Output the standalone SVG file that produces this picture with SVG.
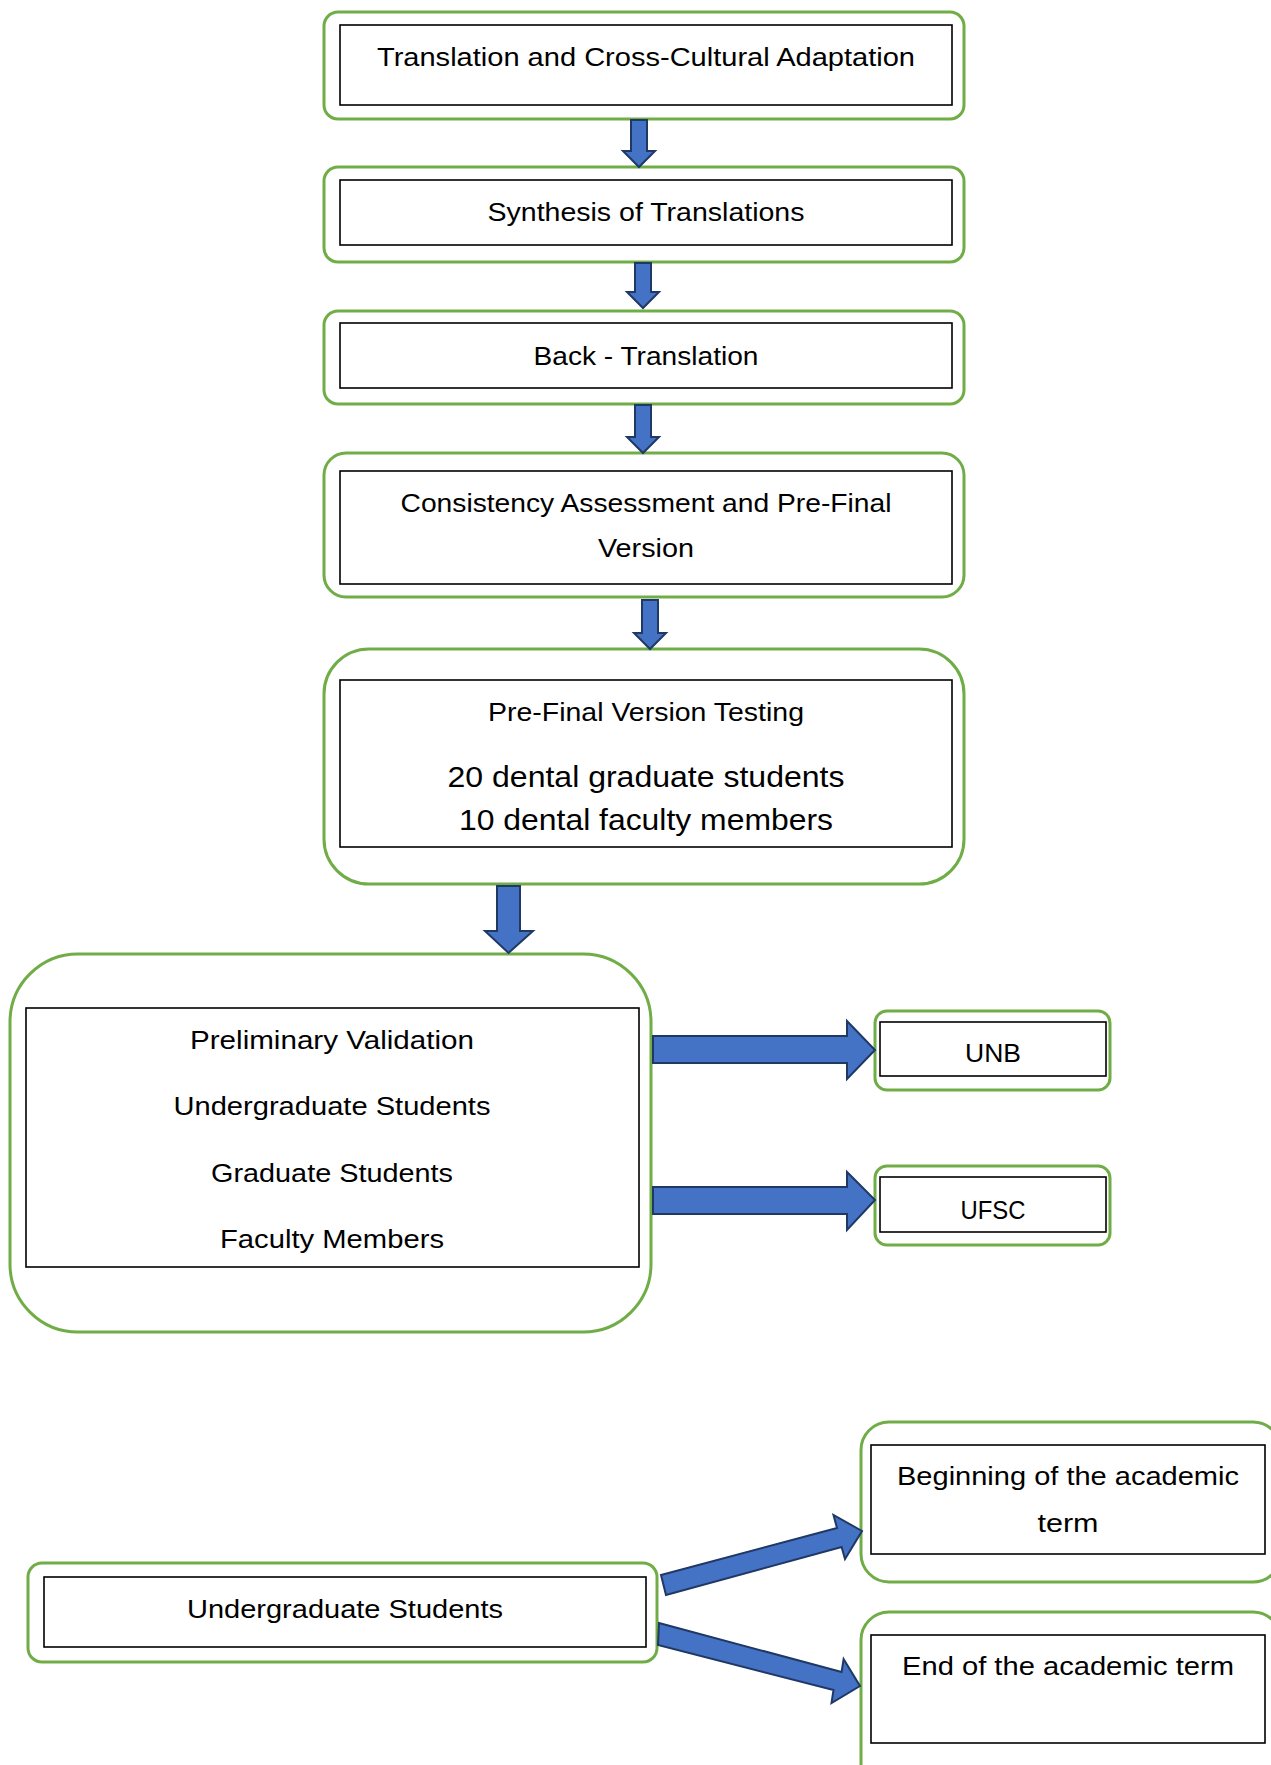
<svg xmlns="http://www.w3.org/2000/svg" width="1271" height="1765" viewBox="0 0 1271 1765">
<style>
.outer{fill:#fff;stroke:#70AD47;stroke-width:3}
.inner{fill:#fff;stroke:#000;stroke-width:1.6}
.t{font-family:"Liberation Sans",Arial,sans-serif;font-size:26px;fill:#000;text-anchor:middle}
.a{font-family:"Liberation Sans",Arial,sans-serif;font-size:29px;fill:#000;text-anchor:middle}
.arr{fill:#4472C4;stroke:#1F3864;stroke-width:2;stroke-linejoin:miter}
</style>
<rect width="1271" height="1765" fill="#fff"/>
<g id="n1">
<rect class="outer" x="324" y="12" width="640" height="107" rx="14"/>
<rect class="inner" x="340" y="25" width="612" height="80"/>
<text class="t" x="646" y="66" textLength="538" lengthAdjust="spacingAndGlyphs">Translation and Cross-Cultural Adaptation</text>
</g>
<g id="n2">
<rect class="outer" x="324" y="167" width="640" height="95" rx="14"/>
<rect class="inner" x="340" y="180" width="612" height="65"/>
<text class="t" x="646" y="221" textLength="317" lengthAdjust="spacingAndGlyphs">Synthesis of Translations</text>
</g>
<g id="n3">
<rect class="outer" x="324" y="311" width="640" height="93" rx="14"/>
<rect class="inner" x="340" y="323" width="612" height="65"/>
<text class="t" x="646" y="365" textLength="225" lengthAdjust="spacingAndGlyphs">Back - Translation</text>
</g>
<g id="n4">
<rect class="outer" x="324" y="453" width="640" height="144" rx="22"/>
<rect class="inner" x="340" y="471" width="612" height="113"/>
<text class="t" x="646" y="512" textLength="491" lengthAdjust="spacingAndGlyphs">Consistency Assessment and Pre-Final</text>
<text class="t" x="646" y="557" textLength="96" lengthAdjust="spacingAndGlyphs">Version</text>
</g>
<g id="n5">
<rect class="outer" x="324" y="649" width="640" height="235" rx="45"/>
<rect class="inner" x="340" y="680" width="612" height="167"/>
<text class="t" x="646" y="721" textLength="316" lengthAdjust="spacingAndGlyphs">Pre-Final Version Testing</text>
<text class="a" x="646" y="787" textLength="397" lengthAdjust="spacingAndGlyphs">20 dental graduate students</text>
<text class="a" x="646" y="830" textLength="374" lengthAdjust="spacingAndGlyphs">10 dental faculty members</text>
</g>
<g id="n6">
<rect class="outer" x="10" y="954" width="641" height="378" rx="68"/>
<rect class="inner" x="26" y="1008" width="613" height="259"/>
<text class="t" x="332" y="1049" textLength="284" lengthAdjust="spacingAndGlyphs">Preliminary Validation</text>
<text class="t" x="332" y="1115" textLength="317" lengthAdjust="spacingAndGlyphs">Undergraduate Students</text>
<text class="t" x="332" y="1182" textLength="242" lengthAdjust="spacingAndGlyphs">Graduate Students</text>
<text class="t" x="332" y="1248" textLength="224" lengthAdjust="spacingAndGlyphs">Faculty Members</text>
</g>
<g id="n7">
<rect class="outer" x="875" y="1011" width="235" height="79" rx="12"/>
<rect class="inner" x="880" y="1022" width="226" height="54"/>
<text class="t" x="993" y="1062" textLength="56" lengthAdjust="spacingAndGlyphs">UNB</text>
</g>
<g id="n8">
<rect class="outer" x="875" y="1166" width="235" height="79" rx="12"/>
<rect class="inner" x="880" y="1177" width="226" height="55"/>
<text class="t" x="993" y="1219" textLength="65" lengthAdjust="spacingAndGlyphs">UFSC</text>
</g>
<g id="n9">
<rect class="outer" x="28" y="1563" width="629" height="99" rx="14"/>
<rect class="inner" x="44" y="1577" width="602" height="70"/>
<text class="t" x="345" y="1618" textLength="316" lengthAdjust="spacingAndGlyphs">Undergraduate Students</text>
</g>
<g id="n10">
<rect class="outer" x="861" y="1422" width="420" height="160" rx="28"/>
<rect class="inner" x="871" y="1445" width="394" height="109"/>
<text class="t" x="1068" y="1485" textLength="342" lengthAdjust="spacingAndGlyphs">Beginning of the academic</text>
<text class="t" x="1068" y="1532" textLength="61" lengthAdjust="spacingAndGlyphs">term</text>
</g>
<g id="n11">
<rect class="outer" x="861" y="1612" width="420" height="180" rx="28"/>
<rect class="inner" x="871" y="1635" width="394" height="108"/>
<text class="t" x="1068" y="1675" textLength="332" lengthAdjust="spacingAndGlyphs">End of the academic term</text>
</g>
<g id="connectors">
<polygon class="arr" points="631,120 647,120 647,151 655,151 639,167 623,151 631,151"/>
<polygon class="arr" points="635,263 651,263 651,292 659,292 643,308 627,292 635,292"/>
<polygon class="arr" points="635,405 651,405 651,437 659,437 643,453 627,437 635,437"/>
<polygon class="arr" points="642,600 658,600 658,633 666,633 650,649 634,633 642,633"/>
<polygon class="arr" points="497,886 520,886 520,931 533,931 508.5,953 485,931 497,931"/>
<polygon class="arr" points="653,1036 847,1036 847,1021 875,1050 847,1079 847,1063 653,1063"/>
<polygon class="arr" points="653,1187 847,1187 847,1172 875,1200 847,1230 847,1214 653,1214"/>
<polygon class="arr" points="661,1575 837,1528 833.5,1515 862,1531 845,1559 841.6,1547 666,1595"/>
<polygon class="arr" points="659,1623 841.6,1672 843.6,1659 860,1686 831.5,1703 833.5,1690 658,1645"/>
</g>
</svg>
